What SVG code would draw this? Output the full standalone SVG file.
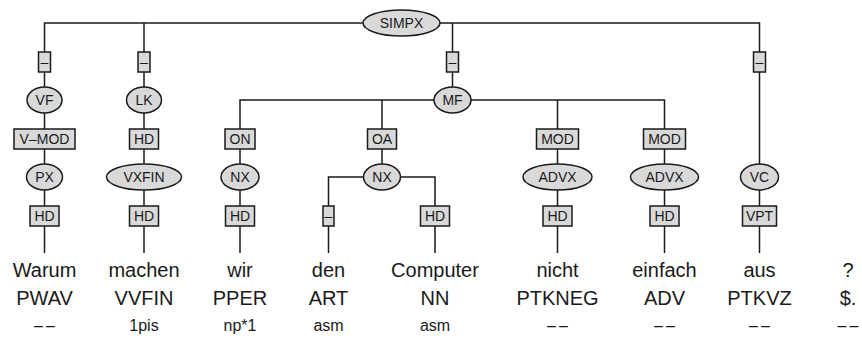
<svg xmlns="http://www.w3.org/2000/svg" width="862" height="347" viewBox="0 0 862 347">
<style>
.e{fill:#d9d9d9;stroke:#1a1a1a;stroke-width:1.5}
.b{fill:#d9d9d9;stroke:#1a1a1a;stroke-width:1.5}
.l{stroke:#1a1a1a;stroke-width:1.5;fill:none}
.t{font-family:"Liberation Sans",Arial,sans-serif;font-size:14px;text-anchor:middle;fill:#1a1a1a}
.w{font-family:"Liberation Sans",Arial,sans-serif;font-size:20px;text-anchor:middle;fill:#1a1a1a}
.m{font-family:"Liberation Sans",Arial,sans-serif;font-size:16px;text-anchor:middle;fill:#1a1a1a}
.d{letter-spacing:3px}
</style>
<g id="connectors">
<path class="l" d="M44.5,253V23H759.5V253"/>
<path class="l" d="M144,23V253"/>
<path class="l" d="M452.5,23V100"/>
<path class="l" d="M240,253V100H664.5V253"/>
<path class="l" d="M382,100V177"/>
<path class="l" d="M557.5,100V253"/>
<path class="l" d="M328.5,253V177H435V253"/>
</g>
<g id="SIMPX"><ellipse class="e" cx="401.5" cy="23" rx="38.5" ry="13"/><text class="t" x="401.5" y="28">SIMPX</text></g>
<g id="e_vf"><rect class="b" x="38.5" y="52" width="12" height="20"/><text class="t" x="44.5" y="67">–</text></g>
<g id="e_lk"><rect class="b" x="138" y="52" width="12" height="20"/><text class="t" x="144" y="67">–</text></g>
<g id="e_mf"><rect class="b" x="446.5" y="52" width="12" height="20"/><text class="t" x="452.5" y="67">–</text></g>
<g id="e_vc"><rect class="b" x="753.5" y="52" width="12" height="20"/><text class="t" x="759.5" y="67">–</text></g>
<g id="VF"><ellipse class="e" cx="44.5" cy="100" rx="17.5" ry="13"/><text class="t" x="44.5" y="105">VF</text></g>
<g id="LK"><ellipse class="e" cx="144" cy="100" rx="17.5" ry="13"/><text class="t" x="144" y="105">LK</text></g>
<g id="MF"><ellipse class="e" cx="452.5" cy="100" rx="18.5" ry="13"/><text class="t" x="452.5" y="105">MF</text></g>
<g id="VC"><ellipse class="e" cx="759.5" cy="177" rx="19" ry="13"/><text class="t" x="759.5" y="182">VC</text></g>
<g id="e_vmod"><rect class="b" x="14" y="129" width="61" height="20"/><text class="t" x="44.5" y="144">V–MOD</text></g>
<g id="e_hd_lk"><rect class="b" x="129.5" y="129" width="29" height="20"/><text class="t" x="144" y="144">HD</text></g>
<g id="e_on"><rect class="b" x="225" y="129" width="30" height="20"/><text class="t" x="240" y="144">ON</text></g>
<g id="e_oa"><rect class="b" x="367.5" y="129" width="29" height="20"/><text class="t" x="382" y="144">OA</text></g>
<g id="e_mod1"><rect class="b" x="536.5" y="129" width="42" height="20"/><text class="t" x="557.5" y="144">MOD</text></g>
<g id="e_mod2"><rect class="b" x="643.5" y="129" width="42" height="20"/><text class="t" x="664.5" y="144">MOD</text></g>
<g id="PX"><ellipse class="e" cx="44.5" cy="177" rx="18" ry="13"/><text class="t" x="44.5" y="182">PX</text></g>
<g id="VXFIN"><ellipse class="e" cx="144" cy="177" rx="37.5" ry="13"/><text class="t" x="144" y="182">VXFIN</text></g>
<g id="NX1"><ellipse class="e" cx="240" cy="177" rx="19" ry="13"/><text class="t" x="240" y="182">NX</text></g>
<g id="NX2"><ellipse class="e" cx="382" cy="177" rx="18.5" ry="13"/><text class="t" x="382" y="182">NX</text></g>
<g id="ADVX1"><ellipse class="e" cx="557.5" cy="177" rx="34.5" ry="13"/><text class="t" x="557.5" y="182">ADVX</text></g>
<g id="ADVX2"><ellipse class="e" cx="664.5" cy="177" rx="34" ry="13"/><text class="t" x="664.5" y="182">ADVX</text></g>
<g id="e_hd_px"><rect class="b" x="30" y="206" width="29" height="20"/><text class="t" x="44.5" y="221">HD</text></g>
<g id="e_hd_vx"><rect class="b" x="129.5" y="206" width="29" height="20"/><text class="t" x="144" y="221">HD</text></g>
<g id="e_hd_nx"><rect class="b" x="225.5" y="206" width="29" height="20"/><text class="t" x="240" y="221">HD</text></g>
<g id="e_den"><rect class="b" x="323" y="206" width="11" height="20"/><text class="t" x="328.5" y="221">–</text></g>
<g id="e_hd_comp"><rect class="b" x="420.5" y="206" width="29" height="20"/><text class="t" x="435" y="221">HD</text></g>
<g id="e_hd_nicht"><rect class="b" x="543" y="206" width="29" height="20"/><text class="t" x="557.5" y="221">HD</text></g>
<g id="e_hd_einf"><rect class="b" x="650" y="206" width="29" height="20"/><text class="t" x="664.5" y="221">HD</text></g>
<g id="e_vpt"><rect class="b" x="742.5" y="206" width="34" height="20"/><text class="t" x="759.5" y="221">VPT</text></g>
<g id="tokens">
<text class="w" x="44.5" y="277">Warum</text>
<text class="w" x="144" y="277">machen</text>
<text class="w" x="240" y="277">wir</text>
<text class="w" x="328.5" y="277">den</text>
<text class="w" x="435" y="277">Computer</text>
<text class="w" x="557.5" y="277">nicht</text>
<text class="w" x="664.5" y="277">einfach</text>
<text class="w" x="759.5" y="277">aus</text>
<text class="w" x="848" y="277">?</text>
<text class="w" x="44.5" y="305">PWAV</text>
<text class="w" x="144" y="305">VVFIN</text>
<text class="w" x="240" y="305">PPER</text>
<text class="w" x="328.5" y="305">ART</text>
<text class="w" x="435" y="305">NN</text>
<text class="w" x="557.5" y="305">PTKNEG</text>
<text class="w" x="664.5" y="305">ADV</text>
<text class="w" x="759.5" y="305">PTKVZ</text>
<text class="w" x="848" y="305">$.</text>
<text class="m d" x="46" y="331">––</text>
<text class="m" x="144" y="331">1pis</text>
<text class="m" x="240" y="331">np*1</text>
<text class="m" x="328.5" y="331">asm</text>
<text class="m" x="435" y="331">asm</text>
<text class="m d" x="559" y="331">––</text>
<text class="m d" x="666" y="331">––</text>
<text class="m d" x="761" y="331">––</text>
<text class="m d" x="849.5" y="331">––</text>
</g>
</svg>
